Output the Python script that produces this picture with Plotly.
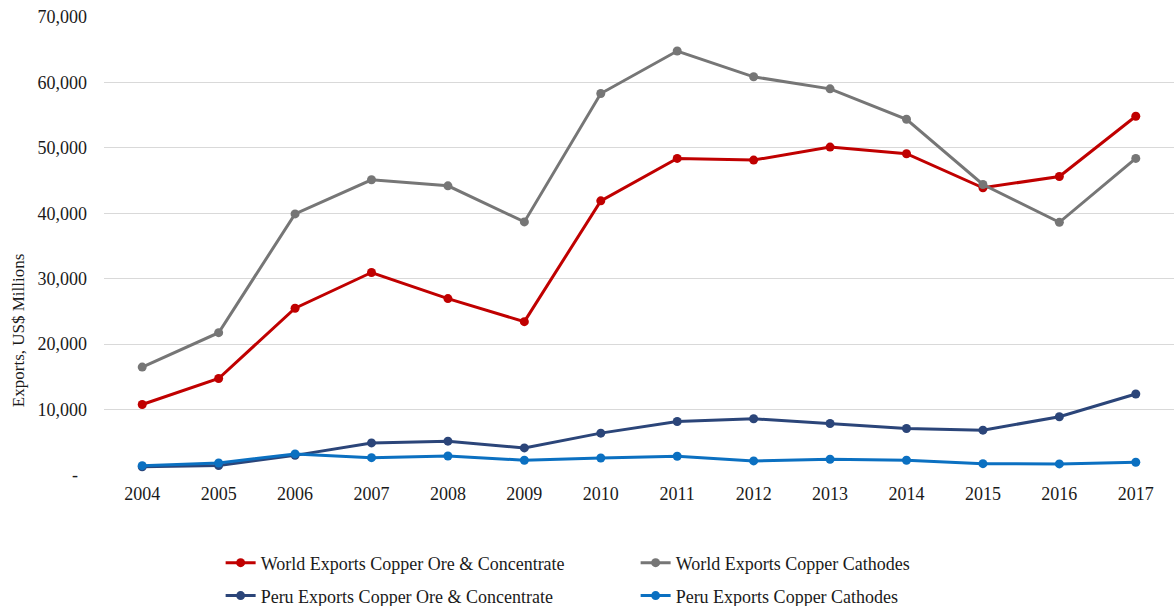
import plotly.graph_objects as go

years = ["2004", "2005", "2006", "2007", "2008", "2009", "2010",
         "2011", "2012", "2013", "2014", "2015", "2016", "2017"]

world_ore = [10770, 14750, 25490, 30950, 26960, 23440, 41900,
             48390, 48130, 50120, 49100, 43900, 45630, 54830]
world_cathodes = [16490, 21750, 39900, 45120, 44200, 38680, 58300,
                  64800, 60860, 59020, 54370, 44400, 38620, 48390]
peru_ore = [1250, 1450, 3000, 4900, 5170, 4140, 6400,
            8170, 8590, 7870, 7100, 6850, 8900, 12380]
peru_cathodes = [1430, 1840, 3220, 2650, 2910, 2250, 2600,
                 2870, 2150, 2400, 2250, 1730, 1690, 1950]

series_names = ["World Exports Copper Ore & Concentrate",
                "World Exports Copper Cathodes",
                "Peru Exports Copper Ore & Concentrate",
                "Peru Exports Copper Cathodes"]
series_values = [world_ore, world_cathodes, peru_ore, peru_cathodes]
series_colors = ["#C00000", "#767676", "#2B4579", "#0B70C1"]
series_legend = ["legend", "legend", "legend2", "legend2"]

y_tickvals = [0, 10000, 20000, 30000, 40000, 50000, 60000, 70000]
y_ticktext = ["-\u00a0\u00a0", "10,000", "20,000", "30,000", "40,000",
              "50,000", "60,000", "70,000"]

FONT = "Liberation Serif, Times New Roman, serif"
TEXT = "#1a1a1a"

fig = go.Figure()
for name, vals, col, lg in zip(series_names, series_values, series_colors, series_legend):
    fig.add_trace(go.Scatter(
        x=years, y=vals, name=name, mode="lines+markers",
        line=dict(color=col, width=3),
        marker=dict(color=col, size=9),
        legend=lg,
    ))

legend_common = dict(
    orientation="h", x=0.109, xanchor="left", yanchor="middle",
    entrywidth=370, entrywidthmode="pixels",
    font=dict(family=FONT, size=18, color=TEXT),
    itemwidth=30, traceorder="normal", bgcolor="rgba(0,0,0,0)",
)

fig.update_layout(
    width=1174, height=606,
    margin=dict(l=104, r=0, t=17, b=131, autoexpand=False),
    paper_bgcolor="white", plot_bgcolor="white",
    font=dict(family=FONT, size=18, color=TEXT),
    showlegend=True,
    legend=dict(legend_common, y=-0.192),
    legend2=dict(legend_common, y=-0.264),
    annotations=[dict(
        text="Exports, US$ Millions", textangle=-90,
        xref="paper", yref="paper", x=-0.0805, y=0.316,
        xanchor="center", yanchor="middle", showarrow=False,
        font=dict(family=FONT, size=17, color=TEXT),
    )],
)

fig.update_xaxes(
    type="category", range=[-0.5, 13.5],
    showgrid=False, showline=False, zeroline=False, ticks="",
    ticklabelstandoff=6,
    tickfont=dict(family=FONT, size=18, color=TEXT),
)
fig.update_yaxes(
    range=[0, 70000], tickvals=y_tickvals, ticktext=y_ticktext,
    showgrid=True, gridcolor="#D9D9D9", gridwidth=1.3,
    zeroline=False, showline=False, ticks="",
    ticklabelstandoff=16,
    tickfont=dict(family=FONT, size=18, color=TEXT),
)

fig.write_html("out.html")
